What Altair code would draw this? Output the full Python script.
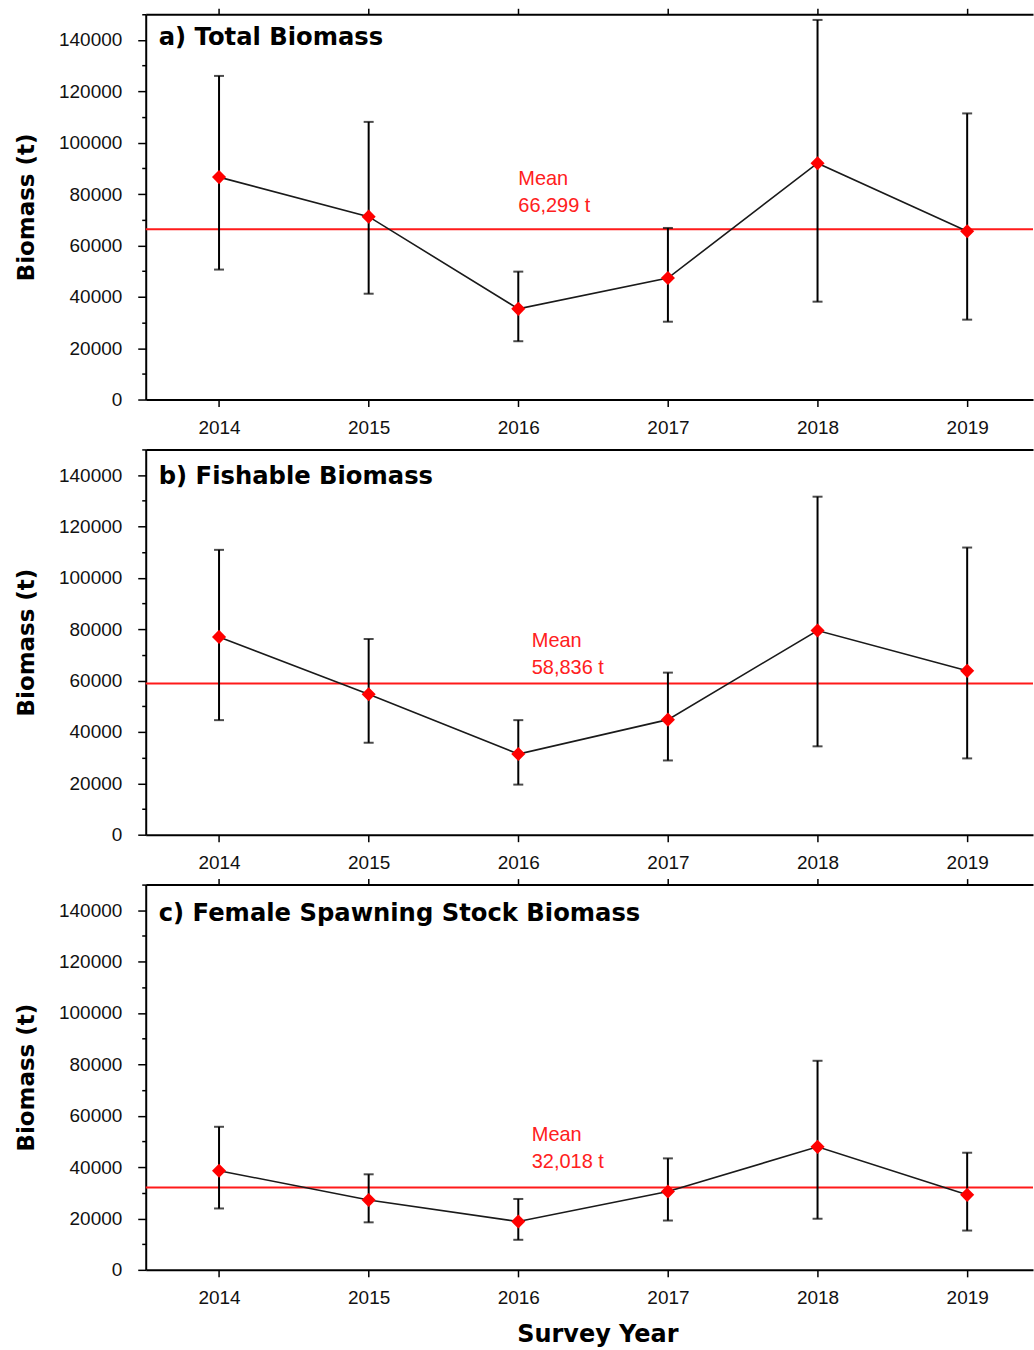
import altair as alt
import pandas as pd

# Survey years
years = [2014, 2015, 2016, 2017, 2018, 2019]

# a) Total biomass (t): estimate with lower / upper confidence limits
total_est = [86600, 71200, 35300, 47300, 92000, 65500]
total_lo = [50600, 41200, 22700, 30300, 38100, 31100]
total_hi = [126000, 108100, 49800, 66800, 147800, 111400]
total_mean = 66299

# b) Fishable biomass (t)
fish_est = [77000, 54700, 31400, 44800, 79500, 63800]
fish_lo = [44600, 35800, 19500, 28900, 34400, 29700]
fish_hi = [110900, 76200, 44600, 63100, 131600, 111800]
fish_mean = 58836

# c) Female spawning stock biomass (t)
fssb_est = [38600, 27200, 18800, 30500, 47900, 29200]
fssb_lo = [23900, 18500, 11700, 19200, 19900, 15300]
fssb_hi = [55700, 37200, 27600, 43400, 81400, 45600]
fssb_mean = 32018

panels = [
    dict(title="a) Total Biomass", est=total_est, lo=total_lo, hi=total_hi, mean=total_mean),
    dict(title="b) Fishable Biomass", est=fish_est, lo=fish_lo, hi=fish_hi, mean=fish_mean),
    dict(title="c) Female Spawning Stock Biomass", est=fssb_est, lo=fssb_lo, hi=fssb_hi, mean=fssb_mean),
]

# Placement of the in-panel labels (pixels / years)
label_layout = [
    dict(title_y=24, mean_x=2016.0, mean_dy=-50, top_ticks=True),
    dict(title_y=28, mean_x=2016.09, mean_dy=-43, top_ticks=False),
    dict(title_y=29, mean_x=2016.09, mean_dy=-53, top_ticks=True),
]

X_DOMAIN = [2013.51, 2019.44]
Y_DOMAIN = [0, 150000]
W, H = 889, 386
LABEL_FONT = "Liberation Sans"
TITLE_FONT = "DejaVu Sans"


def x_scale():
    return alt.Scale(domain=X_DOMAIN, nice=False, zero=False)


def y_enc(field):
    return alt.Y(
        f"{field}:Q",
        scale=alt.Scale(domain=Y_DOMAIN, nice=False, zero=True),
        axis=alt.Axis(
            title="Biomass (t)",
            values=list(range(0, 150001, 10000)),
            format="d",
            labelExpr="datum.value % 20000 === 0 ? datum.label : ''",
            tickSize={"condition": {"test": "datum.value % 20000 === 0", "value": 8}, "value": 4},
            labelOverlap=False,
            labelPadding=16,
            titlePadding=20,
            grid=False,
        ),
    )


def panel(p, lay, last):
    df = pd.DataFrame({"year": years, "est": p["est"], "lo": p["lo"], "hi": p["hi"]})
    mean_df = pd.DataFrame(
        {"x": [lay["mean_x"]], "mean": [p["mean"]], "txt": [f"Mean\n{p['mean']:,} t"]}
    )
    title_df = pd.DataFrame({"t": [p["title"]]})
    base = alt.Chart(df)

    mean_rule = alt.Chart(mean_df).mark_rule(color="#ff1a1a", strokeWidth=2).encode(
        y=y_enc("mean")
    )

    top_axis = alt.Axis(
        orient="top", labels=False, title=None, values=years,
        ticks=lay["top_ticks"], tickSize=6, grid=False,
    )
    errbar = base.mark_rule(color="black", strokeWidth=2).encode(
        x=alt.X("year:Q", scale=x_scale(), axis=top_axis),
        y=y_enc("lo"),
        y2="hi:Q",
    )

    caps = base.transform_fold(["lo", "hi"], as_=["bound", "cap"]).mark_tick(
        orient="horizontal", size=10, thickness=2, color="black"
    ).encode(
        x=alt.X("year:Q", scale=x_scale(), axis=None),
        y=y_enc("cap"),
    )

    line = base.mark_line(color="#1a1a1a", strokeWidth=1.6).encode(
        x=alt.X("year:Q", scale=x_scale(), axis=None),
        y=y_enc("est"),
    )

    bottom_axis = alt.Axis(
        orient="bottom", values=years, format="d", tickSize=7, labelPadding=12,
        title="Survey Year" if last else None, titlePadding=15, grid=False,
        labelFlush=False, titleX=W / 2 + 8, titleAlign="center",
    )
    points = base.mark_point(shape="diamond", filled=True, color="#ff0000", size=200, opacity=1).encode(
        x=alt.X("year:Q", scale=x_scale(), axis=bottom_axis),
        y=y_enc("est"),
    )

    mean_text = alt.Chart(mean_df).mark_text(
        align="left", baseline="middle", color="#ff2020", font=LABEL_FONT,
        fontSize=20, lineBreak="\n", lineHeight=27, dy=lay["mean_dy"],
    ).encode(
        x=alt.X("x:Q", scale=x_scale(), axis=None),
        y=y_enc("mean"),
        text="txt:N",
    )

    title_text = alt.Chart(title_df).mark_text(
        align="left", baseline="middle", font=TITLE_FONT, fontWeight="bold",
        fontSize=24.3, color="black",
    ).encode(x=alt.value(13), y=alt.value(lay["title_y"]), text="t:N")

    return (
        alt.layer(mean_rule, errbar, caps, line, points, mean_text, title_text)
        .resolve_axis(x="independent")
        .properties(width=W, height=H)
    )


chart = alt.vconcat(
    *[panel(p, lay, i == len(panels) - 1) for i, (p, lay) in enumerate(zip(panels, label_layout))],
    spacing=3,
).properties(
    padding={"left": 15, "top": 4, "right": 0, "bottom": 0},
    background="white",
).configure_view(stroke=None).configure_axis(
    domainColor="black",
    domainWidth=2,
    tickColor="black",
    tickWidth=1.5,
    labelColor="#111111",
    labelFont=LABEL_FONT,
    labelFontSize=19,
    titleFont=TITLE_FONT,
    titleFontWeight="bold",
    titleFontSize=23,
    titleColor="black",
).configure_axisBottom(titleFontSize=24)

chart.save("out.html", embed_options={"renderer": "svg", "actions": False})
